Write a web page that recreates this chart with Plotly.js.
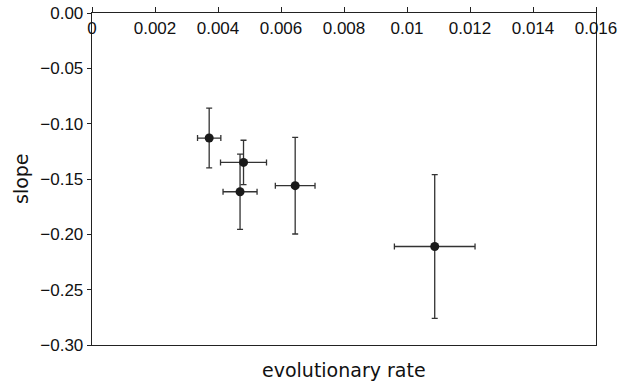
<!DOCTYPE html>
<html><head><meta charset="utf-8">
<script src="https://cdn.plot.ly/plotly-3.0.1.min.js"></script>
<style>html,body{margin:0;padding:0;background:#fff}#chart{width:626px;height:384px}</style>
</head><body><div id="chart"></div>
<script>
const rate = [0.00372, 0.00481, 0.00470, 0.00645, 0.01088];
const rateErr = [0.00037, 0.00073, 0.00054, 0.00063, 0.00128];
const slope = [-0.113, -0.135, -0.1615, -0.156, -0.211];
const slopeErr = [0.027, 0.020, 0.034, 0.0437, 0.065];
const xTitle = 'evolutionary rate';
const yTitle = 'slope';

const tickFont = 'Liberation Sans Narrow, Arial Narrow, Liberation Sans, sans-serif';
const titleFont = 'DejaVu Sans, sans-serif';
const trace = {
  type: 'scatter', mode: 'markers', x: rate, y: slope,
  marker: {size: 9, color: '#1a1a1a'},
  error_x: {type: 'data', array: rateErr, visible: true, color: '#333', thickness: 1.3, width: 3},
  error_y: {type: 'data', array: slopeErr, visible: true, color: '#333', thickness: 1.3, width: 3},
  hoverinfo: 'none', showlegend: false
};
const layout = {
  width: 626, height: 384,
  margin: {l: 92, r: 30, t: 13, b: 39},
  paper_bgcolor: '#fff', plot_bgcolor: '#fff',
  font: {family: tickFont, color: '#111', size: 17},
  xaxis: {
    side: 'top', range: [0, 0.016], dtick: 0.002, tick0: 0,
    showgrid: false, zeroline: false,
    showline: true, mirror: true, linecolor: '#222', linewidth: 1.3,
    ticks: 'outside', ticklen: 5, tickcolor: '#222',
    ticklabelposition: 'inside', ticklabeloverflow: 'allow', ticklabelstandoff: 10,
    tickfont: {size: 17, family: tickFont, color: '#111'}
  },
  yaxis: {
    range: [-0.30, 0], dtick: 0.05, tick0: 0, tickformat: '.2f',
    showgrid: false, zeroline: false,
    showline: true, mirror: true, linecolor: '#222', linewidth: 1.3,
    ticks: 'outside', ticklen: 4, tickcolor: '#222',
    tickfont: {size: 17, family: tickFont, color: '#111'}
  },
  annotations: [
    {text: xTitle, xref: 'paper', yref: 'paper', x: 0.5, y: 0, yanchor: 'middle', xanchor: 'center',
     yshift: -25, showarrow: false, font: {size: 19, family: titleFont, color: '#111'}},
    {text: yTitle, xref: 'paper', yref: 'paper', x: 0, y: 0.5, yanchor: 'middle', xanchor: 'center',
     xshift: -71, textangle: -90, showarrow: false, font: {size: 19, family: titleFont, color: '#111'}}
  ]
};
Plotly.newPlot('chart', [trace], layout, {displayModeBar: false, staticPlot: true});
</script></body></html>
